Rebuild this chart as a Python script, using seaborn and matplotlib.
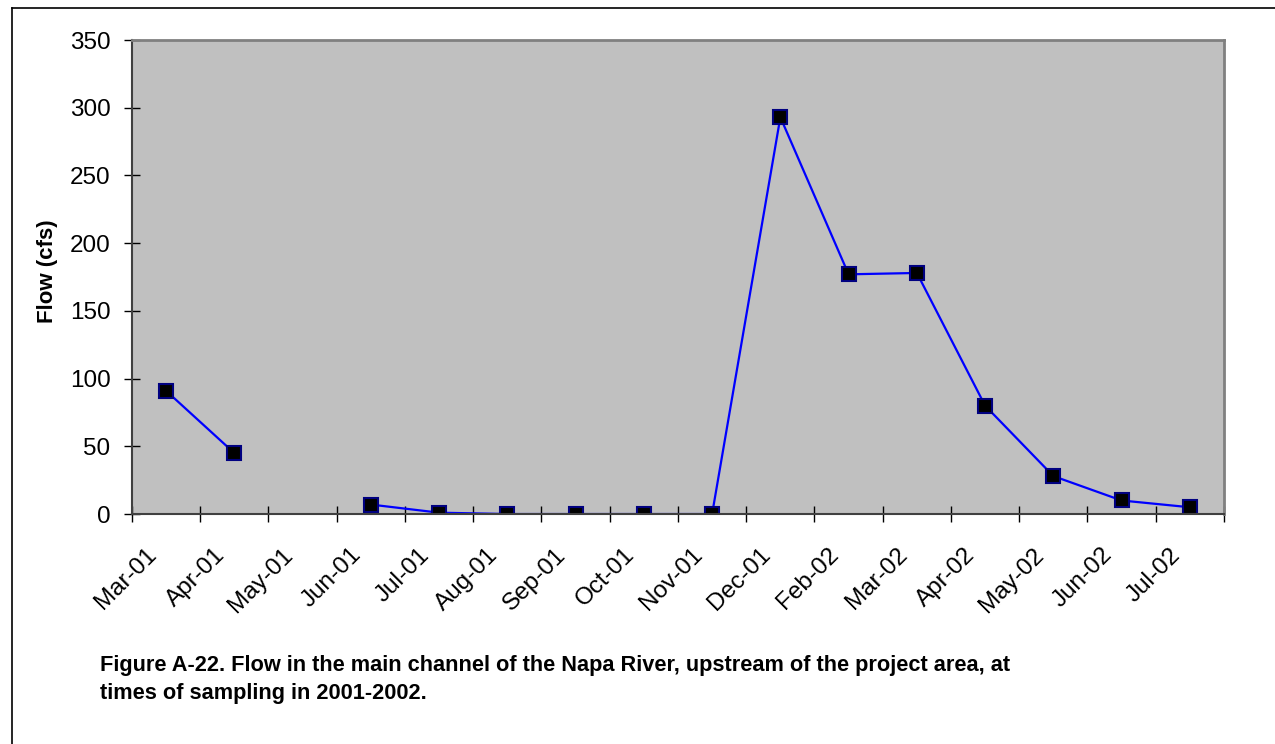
"""Flow in the main channel of the Napa River at sampling times, 2001-2002."""

import matplotlib

matplotlib.use("Agg")

import matplotlib.pyplot as plt
import matplotlib.transforms as mtransforms
import numpy as np
import pandas as pd
import seaborn as sns
from matplotlib.lines import Line2D
from matplotlib.ticker import FixedLocator


MONTHS = [
    "Mar-01", "Apr-01", "May-01", "Jun-01", "Jul-01", "Aug-01", "Sep-01", "Oct-01",
    "Nov-01", "Dec-01", "Feb-02", "Mar-02", "Apr-02", "May-02", "Jun-02", "Jul-02",
]
# May-01 has no sample, so the line breaks there
FLOW_CFS = [91, 45, None, 7, 1, 0, 0, 0, 0, 293, 177, 178, 80, 28, 10, 5]
Y_TICKS = [0, 50, 100, 150, 200, 250, 300, 350]

Y_LABEL = "Flow (cfs)"
CAPTION = (
    "Figure A-22. Flow in the main channel of the Napa River, upstream of the project area, at\n"
    "times of sampling in 2001-2002."
)


def build_frame() -> pd.DataFrame:
    """Put the samples in a frame, one line segment per run of valid values."""
    frame = pd.DataFrame(
        {
            "month": MONTHS,
            "pos": np.arange(len(MONTHS)),
            "flow": pd.to_numeric(pd.Series(FLOW_CFS, dtype="object"), errors="coerce"),
        }
    )
    frame["segment"] = frame["flow"].isna().cumsum()
    return frame.dropna(subset=["flow"])


def main() -> None:
    plt.rcParams["font.family"] = ["Liberation Sans", "DejaVu Sans"]

    frame = build_frame()

    fig = plt.figure(figsize=(12.75, 7.44), dpi=100)
    ax = fig.add_axes([0.1035, 0.3091, 0.8565, 0.6371])
    ax.set_facecolor("#C0C0C0")

    sns.lineplot(
        data=frame,
        x="pos",
        y="flow",
        units="segment",
        estimator=None,
        color="#0000FF",
        linewidth=1.6,
        marker="s",
        markersize=10,
        markerfacecolor="black",
        markeredgecolor="#000080",
        markeredgewidth=1.5,
        ax=ax,
    )

    ax.set_xlim(-0.5, len(MONTHS) - 0.5)
    ax.set_ylim(Y_TICKS[0], Y_TICKS[-1])

    # category boundaries carry the tick marks, centres carry the labels
    ax.xaxis.set_minor_locator(FixedLocator(np.arange(len(MONTHS) + 1) - 0.5))
    ax.set_xticks(np.arange(len(MONTHS)))
    ax.set_xticklabels(MONTHS, rotation=45, ha="right", va="center", rotation_mode="anchor")
    ax.tick_params(axis="x", which="major", length=0, pad=27, labelsize=17.5)
    ax.tick_params(axis="x", which="minor", direction="inout", length=12, width=1, color="black")
    shift = mtransforms.ScaledTranslation(-13 / 100, 0, fig.dpi_scale_trans)
    for label in ax.get_xticklabels():
        label.set_transform(label.get_transform() + shift)

    ax.set_yticks(Y_TICKS)
    ax.tick_params(axis="y", direction="inout", length=12, width=1, pad=9.5, labelsize=17.5)

    ax.set_xlabel("")
    ax.set_ylabel(Y_LABEL, fontsize=16, fontweight="bold")
    ax.yaxis.set_label_coords(-0.068, 0.512)

    for side in ("top", "right"):
        ax.spines[side].set_color("#808080")
        ax.spines[side].set_linewidth(2)
    for side in ("left", "bottom"):
        ax.spines[side].set_color("#404040")
        ax.spines[side].set_linewidth(1.5)

    fig.text(
        100 / 1275,
        1 - 655 / 744,
        CAPTION,
        fontsize=15.7,
        fontweight="bold",
        va="top",
        ha="left",
        linespacing=1.45,
    )

    # outer frame, cut off at the right and bottom edges of the page
    left, top = 12 / 1275, 1 - 8 / 744
    fig.add_artist(Line2D([left, left], [0, top], color="black", linewidth=1.2))
    fig.add_artist(Line2D([left, 1], [top, top], color="black", linewidth=1.2))

    fig.savefig("out.png", dpi=100)
    plt.close(fig)


if __name__ == "__main__":
    main()
